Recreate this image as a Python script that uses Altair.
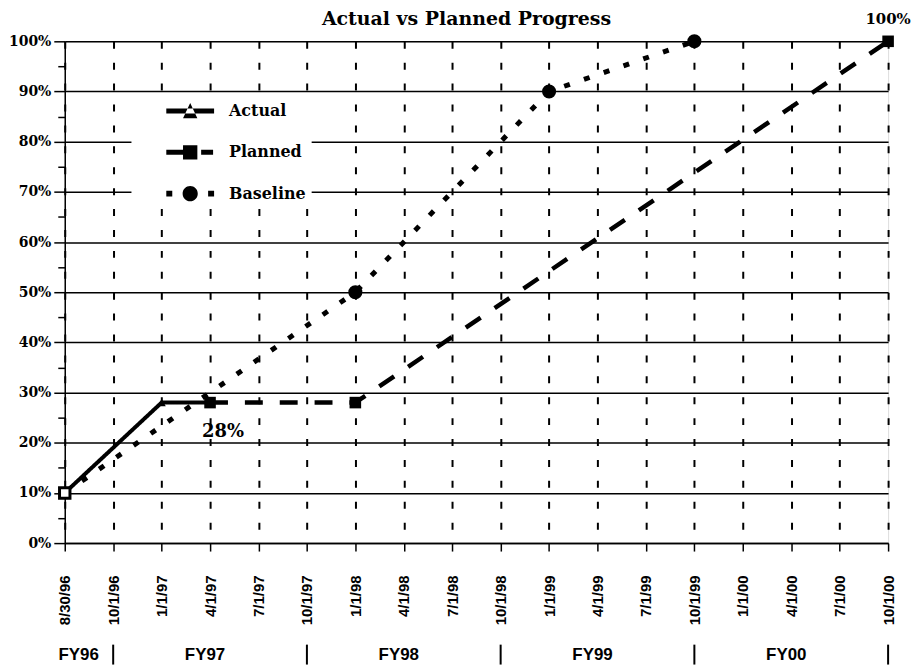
import altair as alt
import pandas as pd

# ---- data ----
dates = ["8/30/96", "10/1/96", "1/1/97", "4/1/97", "7/1/97", "10/1/97",
         "1/1/98", "4/1/98", "7/1/98", "10/1/98", "1/1/99", "4/1/99",
         "7/1/99", "10/1/99", "1/1/00", "4/1/00", "7/1/00", "10/1/00"]
series_names = ["Actual", "Planned", "Baseline"]

actual_x = ["8/30/96", "1/1/97", "4/1/97"]
actual_y = [10, 28, 28]
planned_x = ["4/1/97", "1/1/98", "10/1/00"]
planned_y = [28, 28, 100]
baseline_x = ["8/30/96", "1/1/98", "1/1/99", "10/1/99"]
baseline_y = [10, 50, 90, 100]

marker_series = ["Actual", "Planned", "Planned", "Planned", "Baseline", "Baseline", "Baseline"]
marker_x = ["1/1/97", "4/1/97", "1/1/98", "10/1/00", "1/1/98", "1/1/99", "10/1/99"]
marker_y = [28, 28, 28, 100, 50, 90, 100]

start_x = ["8/30/96"]
start_y = [10]

note_x = ["4/1/97"]
note_y = [28]
note_text = ["28%"]
end_x = ["10/1/00"]
end_y = [100]
end_text = ["100%"]

fy_labels = ["FY97", "FY98", "FY99", "FY00"]
fy_anchor = ["4/1/97", "4/1/98", "4/1/99", "4/1/00"]
fy_first_label = ["FY96"]
fy_first_anchor = ["8/30/96"]
fy_separators = ["10/1/96", "10/1/97", "10/1/98", "10/1/99", "10/1/00"]

y_ticks = list(range(0, 101, 5))

# ---- tables ----
rows = []
for name, xs, ys in [("Actual", actual_x, actual_y),
                     ("Planned", planned_x, planned_y),
                     ("Baseline", baseline_x, baseline_y)]:
    for i, (x, y) in enumerate(zip(xs, ys)):
        rows.append({"series": name, "date": x, "value": y, "idx": i})
lines_df = pd.DataFrame(rows)
markers_df = pd.DataFrame({"series": marker_series, "date": marker_x, "value": marker_y})
start_df = pd.DataFrame({"date": start_x, "value": start_y})
note_df = pd.DataFrame({"date": note_x, "value": note_y, "text": note_text})
end_df = pd.DataFrame({"date": end_x, "value": end_y, "text": end_text})
fy_df = pd.DataFrame({"date": fy_anchor, "label": fy_labels})
fy1_df = pd.DataFrame({"date": fy_first_anchor, "label": fy_first_label})
sep_df = pd.DataFrame({"date": fy_separators})
legend_df = pd.DataFrame({"series": series_names})

W, H = 827, 504

x_enc = alt.X(
    "date:O",
    scale=alt.Scale(type="point", domain=dates, padding=0),
    axis=alt.Axis(
        title=None, labelAngle=270, labelFont="Liberation Sans", labelFontWeight="bold",
        labelFontSize=15, labelColor="black", labelPadding=24,
        tickColor="black", tickSize=8, tickWidth=1.5,
        domainColor="black", domainWidth=1.5,
        grid=True, gridColor="black", gridWidth=2, gridDash=[7, 14],
    ),
)
y_enc = alt.Y(
    "value:Q",
    scale=alt.Scale(domain=[0, 100], nice=False),
    axis=alt.Axis(
        title=None, values=y_ticks,
        labelExpr="datum.value % 10 == 0 ? datum.value + '%' : ''",
        labelFont="DejaVu Serif", labelFontWeight="bold", labelFontSize=14,
        labelColor="black", labelPadding=3,
        tickColor="black", tickWidth=1.5,
        tickSize={"condition": {"test": "datum.value % 10 == 0", "value": 11}, "value": 7},
        domainColor="black", domainWidth=1.5,
        grid=True, gridColor="black", gridWidth=1.5,
        gridOpacity={"condition": {"test": "datum.value % 10 == 0", "value": 1}, "value": 0},
    ),
)

lines = alt.Chart(lines_df).mark_line(color="black", strokeCap="butt").encode(
    x=x_enc, y=y_enc,
    detail="series:N",
    order=alt.Order("idx:Q"),
    strokeDash=alt.StrokeDash("series:N", scale=alt.Scale(domain=series_names,
                              range=[[1, 0], [18, 17], [6, 15]]), legend=None),
    strokeWidth=alt.StrokeWidth("series:N", scale=alt.Scale(domain=series_names,
                                range=[4, 5, 6]), legend=None),
)

markers = alt.Chart(markers_df).mark_point(filled=True, color="black", opacity=1).encode(
    x=x_enc, y=y_enc,
    shape=alt.Shape("series:N", scale=alt.Scale(domain=series_names,
                    range=["triangle-up", "square", "circle"]), legend=None),
    size=alt.Size("series:N", scale=alt.Scale(domain=series_names, range=[70, 200, 260]),
                  legend=None),
)

start = alt.Chart(start_df).mark_point(shape="square", filled=True, fill="white",
                                       stroke="black", strokeWidth=3, size=110,
                                       opacity=1).encode(x=x_enc, y=y_enc)

# legend glyphs (unit box scaled by sqrt(symbolSize)/2 = 10 px)
paths = [
    "M -2.4,-0.25 L 2.4,-0.25 L 2.4,0.25 L -2.4,0.25 Z M -0.72,0.72 L 0.72,0.72 L 0,-0.8 Z",
    "M -2.4,-0.25 L -0.72,-0.25 L -0.72,0.25 L -2.4,0.25 Z M -0.72,-0.72 L 0.72,-0.72 L 0.72,0.72 L -0.72,0.72 Z M 1.1,-0.25 L 2.3,-0.25 L 2.3,0.25 L 1.1,0.25 Z",
    "M -2.4,-0.3 L -1.8,-0.3 L -1.8,0.3 L -2.4,0.3 Z M -0.76,0 A 0.76,0.76 0 1,0 0.76,0 A 0.76,0.76 0 1,0 -0.76,0 Z M 1.8,-0.3 L 2.4,-0.3 L 2.4,0.3 L 1.8,0.3 Z",
]
legend_layer = alt.Chart(legend_df).mark_point(filled=True, color="black", opacity=0).encode(
    shape=alt.Shape("series:N", scale=alt.Scale(domain=series_names, range=paths),
                    legend=alt.Legend(
                        title=None, orient="none", legendX=67, legendY=55,
                        fillColor="white", padding=5, symbolSize=400, symbolOffset=44,
                        symbolFillColor="black", symbolStrokeWidth=0, symbolOpacity=1,
                        labelFont="DejaVu Serif", labelFontWeight="bold", labelFontSize=16,
                        labelColor="black", labelOffset=29, rowPadding=23.5,
                    )),
)

note = alt.Chart(note_df).mark_text(font="DejaVu Serif", fontWeight="bold", fontSize=18,
                                    color="black", dx=13, dy=30).encode(
    x=x_enc, y=y_enc, text="text:N")
end_note = alt.Chart(end_df).mark_text(font="DejaVu Serif", fontWeight="bold", fontSize=15,
                                       color="black", dy=-22).encode(x=x_enc, y=y_enc, text="text:N")

fy = alt.Chart(fy_df).mark_text(font="Liberation Sans", fontWeight="bold", fontSize=17,
                                color="black", dx=-5, baseline="middle").encode(
    x=x_enc, y=alt.value(616), text="label:N")
fy1 = alt.Chart(fy1_df).mark_text(font="Liberation Sans", fontWeight="bold", fontSize=17,
                                  color="black", dx=14, baseline="middle").encode(
    x=x_enc, y=alt.value(616), text="label:N")
seps = alt.Chart(sep_df).mark_rule(color="black", strokeWidth=2).encode(
    x=x_enc, y=alt.value(606), y2=alt.value(626))

chart = alt.layer(
    lines, markers, start, legend_layer, note, end_note, fy, fy1, seps
).resolve_scale(
    shape="independent", size="independent"
).properties(
    width=W, height=H,
    title=alt.TitleParams("Actual vs Planned Progress", font="DejaVu Serif",
                          fontWeight="bold", fontSize=19, color="black", offset=-17, dx=-10,
                          frame="group"),
    padding={"left": 0, "top": 1, "right": 0, "bottom": 0},
).configure_view(stroke="black", strokeWidth=1.5).configure(background="white")

chart.save("out.html", embed_options={"renderer": "svg", "actions": False})
